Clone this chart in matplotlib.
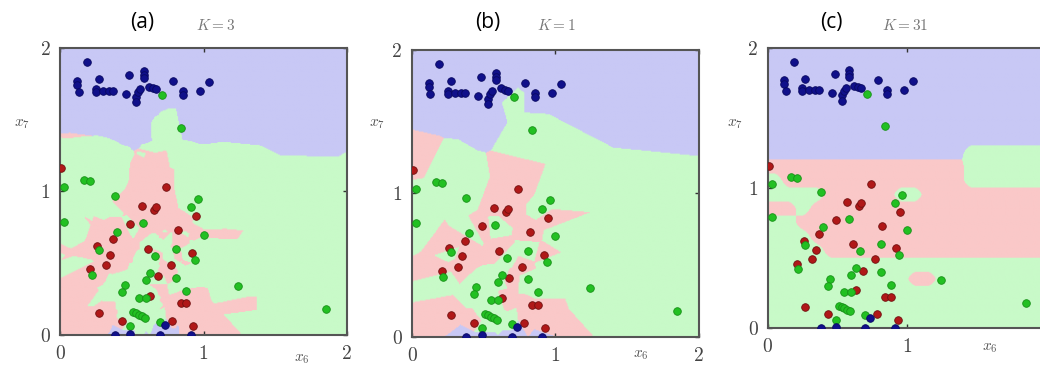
import numpy as np
import matplotlib
matplotlib.use("Agg")
import matplotlib.pyplot as plt

# oil flow data, x6 vs x7
blue_x = [0.19, 0.12, 0.12, 0.13, 0.27, 0.25, 0.25, 0.30, 0.34, 0.37, 0.48, 0.585, 0.585, 0.585,
          0.46, 0.53, 0.545, 0.56, 0.53, 0.62, 0.65, 0.67, 0.79, 0.855, 0.855, 0.975, 1.04,
          0.38, 0.49, 0.70, 0.73, 0.91]
blue_y = [1.90, 1.77, 1.74, 1.69, 1.78, 1.71, 1.69, 1.70, 1.70, 1.70, 1.81, 1.84, 1.81, 1.79,
          1.68, 1.66, 1.69, 1.71, 1.62, 1.73, 1.72, 1.71, 1.77, 1.70, 1.67, 1.70, 1.76,
          0.0, 0.01, 0.0, 0.07, 0.0]

red_x = [0.01, 0.74, 0.57, 0.655, 0.67, 0.95, 0.49, 0.82, 0.37, 0.26, 0.61, 0.35, 0.92, 0.32,
         0.77, 0.21, 0.68, 0.63, 0.84, 0.88, 0.27, 0.43, 0.78, 0.93]
red_y = [1.16, 1.03, 0.90, 0.87, 0.89, 0.83, 0.77, 0.73, 0.67, 0.62, 0.60, 0.56, 0.57, 0.49,
         0.49, 0.46, 0.41, 0.27, 0.22, 0.22, 0.15, 0.10, 0.10, 0.06]

green_x = [0.71, 0.84, 0.03, 0.17, 0.21, 0.38, 0.03, 0.96, 0.91, 0.58, 0.40, 1.00, 0.27, 0.81,
           0.66, 0.94, 0.22, 0.63, 0.60, 0.81, 0.45, 0.43, 0.55, 0.60, 0.88, 1.24, 0.51, 0.53,
           0.55, 0.57, 0.59, 0.49, 0.70, 1.85]
green_y = [1.67, 1.44, 1.03, 1.08, 1.07, 0.97, 0.79, 0.95, 0.89, 0.78, 0.72, 0.70, 0.59, 0.60,
           0.55, 0.52, 0.42, 0.43, 0.38, 0.40, 0.35, 0.30, 0.26, 0.26, 0.31, 0.34, 0.16, 0.15,
           0.14, 0.13, 0.12, 0.06, 0.09, 0.18]

panel_tags = ["(a)", "(b)", "(c)"]
k_values = [3, 1, 31]

# K=31 regions: 0.1 cells, top row is y=1.95, columns x=0.05..1.95
region_c_rows = [
    "bbbbbbbbbbbbbbbbbbbb",
    "bbbbbbbbbbbbbbbbbbbb",
    "bbbbbbbbbbbbbbbbbbbb",
    "bbbbbbbbbbbbbbbbbbbb",
    "bbbbbbbbbbbbbbbbbbbb",
    "bbbbbbbbbbbbbbbbbbbb",
    "bbbbbbbbbbbbbbbbbbbb",
    "bbbbbbbbbbbbbbgggggg",
    "rrrrrrrrrrrrrrgggggg",
    "grrrrrrrrrrrrrgggggg",
    "ggggrrrrrggrrrrrrrrr",
    "rrgrrrrrrrrrrrrrrrrr",
    "ggrrrrrrrrrrrrrrrrrr",
    "gggrrrrrrrrrrrrrrrrr",
    "ggggrrrrrrrrrrrrrrrr",
    "gggggggggggggggggggg",
    "ggggggggggrrgggggggg",
    "gggggggggggggggggggg",
    "gggggggggggggggggggg",
    "gggggggggggggggggggg",
]

# class order: red, green, blue
region_colors = np.array([[250, 200, 200], [200, 250, 200], [200, 200, 245]]) / 255.0
point_colors = ["#b01818", "#22c022", "#10108a"]
edge_colors = ["#701010", "#189018", "#080860"]

X = np.array(red_x + green_x + blue_x)
Y = np.array(red_y + green_y + blue_y)
labels = np.array([0] * len(red_x) + [1] * len(green_x) + [2] * len(blue_x))

N = 300
g = (np.arange(N) + 0.5) / N * 2.0
gx, gy = np.meshgrid(g, g)


def knn_map(k):
    d = (gx[..., None] - X) ** 2 + (gy[..., None] - Y) ** 2
    idx = np.argsort(d, axis=-1)[..., :k]
    lab = labels[idx]
    votes = np.stack([(lab == c).sum(-1) for c in range(3)], -1)
    best = votes.max(-1, keepdims=True)
    out = np.argmax(votes, -1)
    tie = (votes == best).sum(-1) > 1
    for i, j in zip(*np.nonzero(tie)):
        for l in lab[i, j]:
            if votes[i, j, l] == best[i, j, 0]:
                out[i, j] = l
                break
    return out


def grid_map(rows):
    code = {"r": 0, "g": 1, "b": 2}
    lab = np.array([[code[ch] for ch in row] for row in rows[::-1]])
    onehot = np.stack([(lab == c).astype(float) for c in range(3)], -1)
    n = lab.shape[0]
    # bilinear upsample of class indicators, then pick the strongest
    fi = np.clip(gy / 2.0 * n - 0.5, 0, n - 1.0001)
    fj = np.clip(gx / 2.0 * n - 0.5, 0, n - 1.0001)
    i0, j0 = fi.astype(int), fj.astype(int)
    ti, tj = (fi - i0)[..., None], (fj - j0)[..., None]
    v = (onehot[i0, j0] * (1 - ti) * (1 - tj) + onehot[i0 + 1, j0] * ti * (1 - tj)
         + onehot[i0, j0 + 1] * (1 - ti) * tj + onehot[i0 + 1, j0 + 1] * ti * tj)
    return np.argmax(v, -1)


fig = plt.figure(figsize=(10.4, 3.71), dpi=100)
plt.rcParams["mathtext.fontset"] = "cm"

axes_pos = [[0.0577, 0.097, 0.276, 0.774],
            [0.396, 0.092, 0.276, 0.774],
            [0.738, 0.116, 0.269, 0.755]]
tag_x = [0.137, 0.469, 0.799]
k_x = [0.207, 0.535, 0.870]
ylab_pos = [(0.021, 0.668), (0.362, 0.668), (0.707, 0.666)]
xlab_pos = [(0.290, 0.035), (0.616, 0.045), (0.952, 0.062)]

for i, ax_rect in enumerate(axes_pos):
    ax = fig.add_axes(ax_rect)
    if k_values[i] == 31:
        reg = grid_map(region_c_rows)
    else:
        reg = knn_map(k_values[i])
    ax.imshow(region_colors[reg], origin="lower", extent=[0, 2, 0, 2],
              interpolation="bilinear", aspect="auto")
    ax.scatter(red_x, red_y, s=30, c=point_colors[0], edgecolors=edge_colors[0], linewidths=0.6, zorder=3)
    ax.scatter(green_x, green_y, s=30, c=point_colors[1], edgecolors=edge_colors[1], linewidths=0.6, zorder=3)
    ax.scatter(blue_x, blue_y, s=30, c=point_colors[2], edgecolors=edge_colors[2], linewidths=0.6, zorder=3)
    ax.set_xlim(0, 2)
    ax.set_ylim(0, 2)
    ax.set_xticks([0, 1, 2])
    ax.set_yticks([0, 1, 2])
    xlabels = ["0", "1", "2"] if i < 2 else ["0", "1", ""]
    ax.set_xticklabels(xlabels, fontfamily="cmr10", fontsize=14, color="#444444")
    ax.set_yticklabels(["0", "1", "2"], fontfamily="cmr10", fontsize=14, color="#444444")
    ax.tick_params(direction="in", length=3, width=1, color="#333333", top=True, right=True,
                   pad=7)
    for s in ax.spines.values():
        s.set_color("#555555")
        s.set_linewidth(1.5)
    fig.text(tag_x[i], 0.94, panel_tags[i], fontsize=15, family="Open Sans",
             ha="center", va="center")
    fig.text(k_x[i], 0.93, "$K = %d$" % k_values[i], fontsize=11, color="#777777",
             ha="center", va="center")
    fig.text(ylab_pos[i][0], ylab_pos[i][1], "$x_7$", fontsize=11, color="#555555",
             ha="center", va="center")
    fig.text(xlab_pos[i][0], xlab_pos[i][1], "$x_6$", fontsize=11, color="#555555",
             ha="center", va="center")

fig.savefig("out.png", dpi=100)
